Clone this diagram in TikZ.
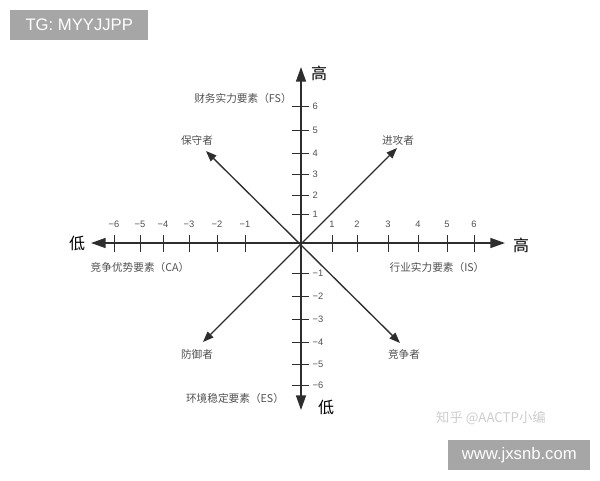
\documentclass[tikz,border=0pt]{standalone}
\usepackage{fontspec}
\setmainfont{Liberation Sans}
\newfontfamily\cjk{Noto Sans CJK SC}
\usetikzlibrary{arrows.meta}
\definecolor{axisgray}{RGB}{45,45,45}
\definecolor{labelgray}{RGB}{80,80,80}
\definecolor{markgray}{RGB}{166,166,166}
\definecolor{faintgray}{RGB}{205,205,205}

\begin{document}
\begin{tikzpicture}[x=0.75pt,y=0.75pt,yscale=-1,xscale=1,
  axisline/.style={draw=axisgray, line width=1.1pt, -{Triangle[length=11pt,width=7.5pt]}},
  diagline/.style={draw=axisgray, line width=1pt, {Triangle[length=8pt,width=6pt]}-{Triangle[length=8pt,width=6pt]}},
  tickline/.style={draw=axisgray, line width=0.6pt},
  ticklabel/.style={text=labelgray, font=\fontsize{7}{8}\selectfont, inner sep=1pt},
  cnlabel/.style={text=labelgray, font=\cjk\fontsize{8}{9}\selectfont, inner sep=1pt},
  endlabel/.style={text=black, font=\cjk\fontsize{12}{14}\selectfont, inner sep=1pt},
  markbox/.style={fill=markgray, text=white, font=\fontsize{12.5}{14}\selectfont, inner sep=0pt, minimum height=22pt}]
\useasboundingbox (0,0) rectangle (600,480);

% Axes
\coordinate (O) at (301,243);
\coordinate (top) at (301,67);
\coordinate (bottom) at (301,410);
\coordinate (left) at (91,243);
\coordinate (right) at (505,243);
\draw [axisline] (O) -- (top);
\draw [axisline] (O) -- (left);
\draw [axisline] (O) -- (right);
\draw [axisline] (O) -- (bottom);

% Ticks on the horizontal axis
\foreach \x/\t [count=\i] in {114/−6,140/−5,163/−4,189/−3,217/−2,245/−1,332/1,357/2,388/3,418/4,447/5,474/6} {
  \draw [tickline] (\x,235) -- (\x,252);
  \node [ticklabel] (hx\i) at (\x,224) {\t};
}
% Ticks on the vertical axis
\foreach \y/\t [count=\i] in {106/6,130/5,153/4,174/3,195/2,214/1,273/−1,296/−2,319/−3,342/−4,364/−5,385/−6} {
  \draw [tickline] (292,\y) -- (309,\y);
  \node [ticklabel, anchor=west] (vy\i) at (311,\y) {\t};
}

% Diagonals
\coordinate (ul) at (206,151);
\coordinate (dr) at (400,343);
\coordinate (ur) at (397,148);
\coordinate (dl) at (203,342);
\draw [diagline] (ul) -- (dr);
\draw [diagline] (dl) -- (ur);

% Text Node
\node [endlabel] (high1) at (319,73) {高};
\node [endlabel] (low1) at (326,407) {低};
\node [endlabel] (low2) at (77,243) {低};
\node [endlabel] (high2) at (521,245) {高};
% Text Node
\node [cnlabel] (fs) at (243,98) {财务实力要素（FS）};
\node [cnlabel] (ca) at (140,267) {竞争优势要素（CA）};
\node [cnlabel] (is) at (437,267) {行业实力要素（IS）};
\node [cnlabel] (es) at (235,398) {环境稳定要素（ES）};
% Text Node
\node [cnlabel] (keep) at (197,140) {保守者};
\node [cnlabel] (attack) at (398,140) {进攻者};
\node [cnlabel] (defend) at (197,354) {防御者};
\node [cnlabel] (compete) at (404,354) {竞争者};

% Marks
\node [markbox, minimum width=138pt*0.75, anchor=north west] (tg) at (10,10) {TG: MYYJJPP};
\node [text=faintgray, font=\cjk\fontsize{10}{12}\selectfont, inner sep=0pt] (zh) at (491,418) {知乎 @AACTP小编};
\node [markbox, minimum width=142pt*0.75, anchor=north west] (site) at (448,440) {www.jxsnb.com};

\end{tikzpicture}
\end{document}
